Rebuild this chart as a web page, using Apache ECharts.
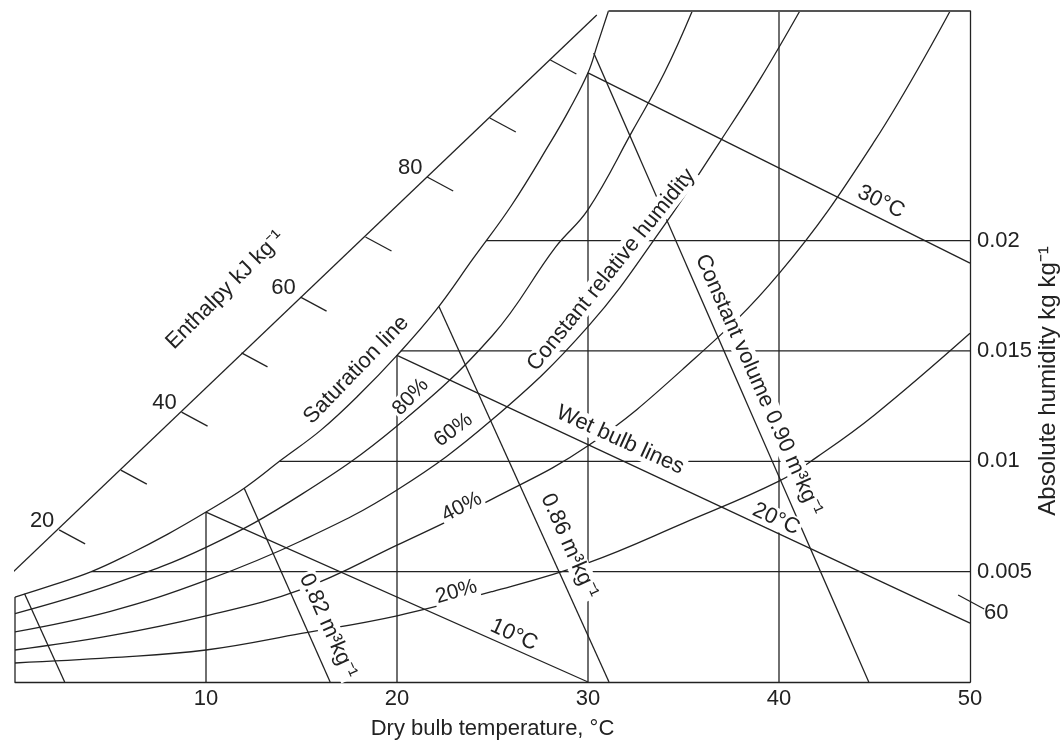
<!DOCTYPE html>
<html><head><meta charset="utf-8">
<script src="https://cdn.jsdelivr.net/npm/echarts@6/dist/echarts.min.js"></script>
<style>html,body{margin:0;padding:0;background:#fff}#c{width:1062px;height:740px}</style>
</head><body><div id="c"></div>
<script>
// ---- data (dry bulb °C, absolute humidity kg/kg) ----
const xTickLabels = [10, 20, 30, 40, 50];
const humidityTickLabels = ['0.005', '0.01', '0.015', '0.02'];

const satT  = [0, 2, 4, 6, 8, 10, 12, 14, 16, 18, 20, 22, 24, 26, 28, 29, 30, 30.5, 31.07];
const satW  = [0.00385, 0.0044, 0.0050, 0.0058, 0.0067, 0.0077, 0.00878, 0.0101, 0.0114, 0.0130, 0.0148, 0.0168, 0.0192, 0.0216, 0.0244, 0.0259, 0.0276, 0.0289, 0.0304];
const rh80T = [0, 5, 10, 15, 20, 25, 28.3, 30, 32.35, 34, 35.46];
const rh80W = [0.0031, 0.0044, 0.0061, 0.0085, 0.0116, 0.0157, 0.0197, 0.0214, 0.0250, 0.0276, 0.0304];
const rh60T = [0, 5, 10, 15, 20, 25, 30, 34, 37, 39, 41.09];
const rh60W = [0.00227, 0.0032, 0.0046, 0.0064, 0.0087, 0.0119, 0.0161, 0.0207, 0.0246, 0.0273, 0.0304];
const rh40T = [0, 5, 10, 15, 20, 25, 30, 35, 40, 45, 48.96];
const rh40W = [0.00145, 0.0021, 0.0030, 0.0042, 0.0062, 0.0083, 0.0107, 0.0142, 0.0185, 0.0245, 0.0304];
const rh20T = [0, 5, 10, 15, 20, 25, 30, 35, 40, 42, 45, 50];
const rh20W = [0.00086, 0.0011, 0.00145, 0.0022, 0.0030, 0.0041, 0.0054, 0.0072, 0.0091, 0.0102, 0.0121, 0.0158];

const wetBulbT = [[10, 30], [20, 50], [30, 50]];
const wetBulbW = [[0.0077, 0], [0.0148, 0.00267], [0.0276, 0.01898]];

const volumeT = [[0.5, 2.6], [12.0, 16.5], [22.2, 31.1], [30.3, 44.7]];
const volumeW = [[0.0040, 0], [0.00878, 0], [0.0170, 0], [0.0285, 0]];

const guideTemps = [10, 20, 30, 40];
const guideTopW  = [0.0077, 0.0148, 0.0276, 0.0304];
const humidityLevels = [0.005, 0.01, 0.015, 0.02];
const humidityStartT = [4.0, 13.85, 20.2, 24.67];

const enthalpyScaleT = [-0.15, 30.46];
const enthalpyScaleW = [0.00494, 0.03022];
const enthalpyTickValues = [20, 30, 40, 50, 60, 70, 80, 90, 100];
const enthalpyTickT = [2.31, 5.54, 8.72, 11.86, 14.95, 18.35, 21.58, 24.86, 28.03];
const enthalpyTickW = [0.00689, 0.0096, 0.01223, 0.01491, 0.01744, 0.02016, 0.02288, 0.02555, 0.02818];
const enthalpyLabelled = [20, 40, 60, 80];
const enthalpyEdgeT = [49.38];
const enthalpyEdgeW = [0.00394];
const enthalpyEdgeLabel = ['60'];

const frameTopT = [31.07, 50];
const frameTopW = [0.0304, 0.0304];
const frameLeftT = [0, 0];
const frameLeftW = [0, 0.00385];

const annotationText = ['Enthalpy kJ kg⁻¹', 'Saturation line', 'Constant relative humidity', '80%', '60%', '40%', '20%',
  'Wet bulb lines', '30°C', '20°C', '10°C', '0.82 m³kg⁻¹', '0.86 m³kg⁻¹', 'Constant volume 0.90 m³kg⁻¹'];
const annotationT = [11.01, 17.87, 31.22, 20.71, 22.95, 23.39, 23.11, 31.68, 45.34, 39.85, 26.12, 16.38, 29.02, 38.93];
const annotationW = [0.01776, 0.01414, 0.01867, 0.01291, 0.01142, 0.00793, 0.00408, 0.01096, 0.02175, 0.00738, 0.00213, 0.00254, 0.00616, 0.01346];

// ---- styles ----
const annotationRotate = [45, 46, 51, 47, 37, 27, 16, -24.5, -26, -25, -24.5, -66, -66, -66];
const INK = '#222222';
const FONT = 'Liberation Sans, Arial, Helvetica, sans-serif';
const FS = 22;
const lineStyle = { color: INK, width: 1.3 };

const zip = (xs, ys) => xs.map((x, i) => [x, ys[i]]);
function lineSeries(data, smooth) {
  return { type: 'line', data, symbol: 'none', smooth: smooth ? 0.4 : false,
    lineStyle, silent: true, z: 2, clip: false };
}

const series = [];
[[satT, satW], [rh80T, rh80W], [rh60T, rh60W], [rh40T, rh40W], [rh20T, rh20W]]
  .forEach(([t, w]) => series.push(lineSeries(zip(t, w), true)));
wetBulbT.forEach((t, i) => series.push(lineSeries(zip(t, wetBulbW[i]))));
volumeT.forEach((t, i) => series.push(lineSeries(zip(t, volumeW[i]))));
guideTemps.forEach((t, i) => series.push(lineSeries([[t, 0], [t, guideTopW[i]]])));
humidityLevels.forEach((w, i) => series.push(lineSeries([[humidityStartT[i], w], [50, w]])));
series.push(lineSeries(zip(enthalpyScaleT, enthalpyScaleW)));
series.push(Object.assign(lineSeries(zip(frameTopT, frameTopW)), { lineStyle: { color: '#555', width: 1.8 } }));
series.push(lineSeries(zip(frameLeftT, frameLeftW)));

// enthalpy scale ticks
const tickData = enthalpyTickT.map((t, i) => [t, enthalpyTickW[i], enthalpyTickValues[i], 0])
  .concat(enthalpyEdgeT.map((t, i) => [t, enthalpyEdgeW[i], enthalpyEdgeLabel[i], 1]));
series.push({
  type: 'custom', silent: true, clip: false, z: 3,
  data: tickData,
  renderItem: function (params, api) {
    const d = tickData[params.dataIndex];
    const p = api.coord([d[0], d[1]]);
    const children = [{ type: 'line', shape: { x1: p[0], y1: p[1], x2: p[0] + 26, y2: p[1] + 14 },
      style: { stroke: INK, lineWidth: 1.3 } }];
    const edge = d[3] === 1;
    if (edge || enthalpyLabelled.indexOf(d[2]) >= 0) {
      children.push({ type: 'text', x: edge ? p[0] + 38 : p[0] - 17, y: edge ? p[1] + 18 : p[1] - 9,
        style: { text: String(d[2]), fontSize: FS, fontFamily: FONT, fill: INK, align: 'center', verticalAlign: 'middle' } });
    }
    return { type: 'group', children };
  }
});

// rotated text annotations
series.push({
  type: 'scatter', symbolSize: 0, silent: true, z: 10, clip: false,
  itemStyle: { opacity: 1 },
  data: annotationText.map((s, i) => ({
    value: [annotationT[i], annotationW[i]],
    label: { show: true, position: 'inside', formatter: s, rotate: annotationRotate[i], opacity: 1,
      fontSize: i >= 3 && i <= 6 ? 21 : FS, fontFamily: FONT, color: INK,
      textBorderWidth: 0, backgroundColor: '#fff', padding: [0, 2] }
  }))
});

const chart = echarts.init(document.getElementById('c'), null, { renderer: 'canvas' });
chart.setOption({
  animation: false,
  backgroundColor: '#fff',
  textStyle: { fontFamily: FONT },
  grid: { left: 15, right: 92, top: 11, bottom: 58, containLabel: false, outerBoundsMode: 'none' },
  xAxis: {
    type: 'value', min: 0, max: 50, interval: 10,
    axisLine: { show: true, lineStyle: { color: INK, width: 1.3 } },
    axisTick: { show: false }, splitLine: { show: false },
    axisLabel: { fontSize: FS, color: INK, margin: 6, fontFamily: FONT,
      formatter: v => (xTickLabels.indexOf(v) >= 0 ? String(v) : '') },
    name: 'Dry bulb temperature, °C', nameLocation: 'middle', nameGap: 36,
    nameTextStyle: { fontSize: FS, color: INK, fontFamily: FONT }
  },
  yAxis: {
    type: 'value', position: 'right', min: 0, max: 0.0304, interval: 0.005,
    axisLine: { show: true, onZero: false, lineStyle: { color: INK, width: 1.3 } },
    axisTick: { show: false }, splitLine: { show: false },
    axisLabel: { fontSize: FS, color: INK, margin: 7, fontFamily: FONT, showMaxLabel: false,
      formatter: v => { const s = String(+v.toFixed(3)); return humidityTickLabels.indexOf(s) >= 0 ? s : ''; } }
  },
  graphic: [{
    type: 'text', x: 1048, y: 381, rotation: Math.PI / 2,
    style: { text: 'Absolute humidity kg kg⁻¹', fontSize: 24, fontFamily: FONT, fill: INK, align: 'center', verticalAlign: 'middle' }
  }],
  series
});
</script></body></html>
